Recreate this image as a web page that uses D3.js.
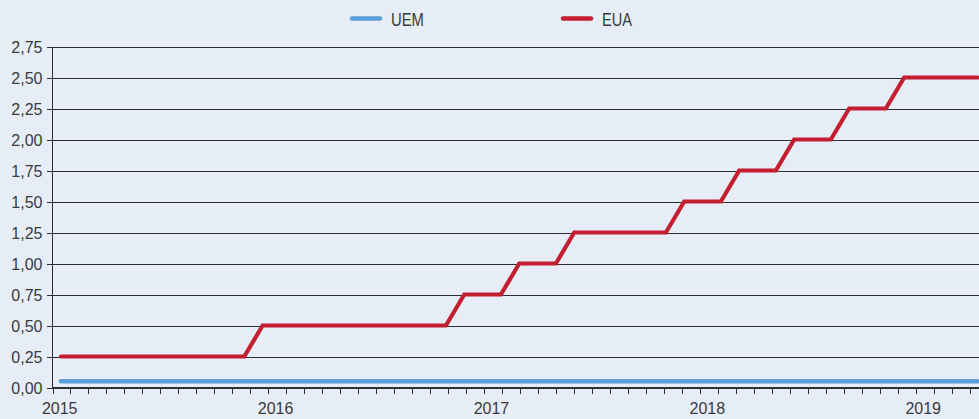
<!DOCTYPE html>
<meta charset="UTF-8">
<style>
  body { margin: 0; background: #e7edf7; }
  svg { display: block; }
  .grid line { stroke: #2e2e2e; stroke-width: 1; shape-rendering: crispEdges; }
  .tick text { font: 16px "Liberation Sans", Arial, sans-serif; fill: #3a3a3a; }
  .legend text { font: 19px "Liberation Sans", Arial, sans-serif; fill: #3a3a3a; }
  .series { fill: none; stroke-linejoin: miter; stroke-linecap: round; }
</style>
<body>
<svg width="979" height="419" id="chart"></svg>

<script src="https://cdn.jsdelivr.net/npm/d3@7"></script>
<script>

// year labels on the x axis
var years = ["2015", "2016", "2017", "2018", "2019"];

// y axis ticks
var yTicks = [0, 0.25, 0.5, 0.75, 1, 1.25, 1.5, 1.75, 2, 2.25, 2.5, 2.75];

// UEM (euro area) rate, one value per period
var uem = [0.05, 0.05, 0.05, 0.05, 0.05, 0.05, 0.05, 0.05, 0.05, 0.05,
           0.05, 0.05, 0.05, 0.05, 0.05, 0.05, 0.05, 0.05, 0.05, 0.05,
           0.05, 0.05, 0.05, 0.05, 0.05, 0.05, 0.05, 0.05, 0.05, 0.05,
           0.05, 0.05, 0.05, 0.05, 0.05, 0.05, 0.05, 0.05, 0.05, 0.05,
           0.05, 0.05, 0.05, 0.05, 0.05, 0.05, 0.05, 0.05, 0.05, 0.05,
           0.05];

// EUA (United States) rate
var eua = [0.25, 0.25, 0.25, 0.25, 0.25, 0.25, 0.25, 0.25, 0.25, 0.25,
           0.25, 0.50, 0.50, 0.50, 0.50, 0.50, 0.50, 0.50, 0.50, 0.50,
           0.50, 0.50, 0.75, 0.75, 0.75, 1.00, 1.00, 1.00, 1.25, 1.25,
           1.25, 1.25, 1.25, 1.25, 1.50, 1.50, 1.50, 1.75, 1.75, 1.75,
           2.00, 2.00, 2.00, 2.25, 2.25, 2.25, 2.50, 2.50, 2.50, 2.50,
           2.50];

var svg = d3.select("#chart");
var W = 979, H = 419;

var mLeft = 52.5, mTop = 46.5, mBottom = 387.5;

// month tick scale (52 months shown, last one cut off at the edge)
var xMonth = d3.scaleLinear().domain([0, 51.5]).range([mLeft, W]);
// data point scale
var xData = d3.scaleLinear().domain([0, uem.length - 1]).range([61, 977.5]);
var y = d3.scaleLinear().domain([0, 2.75]).range([mBottom, mTop]);

var fmt = function(v) { return d3.format(".2f")(v).replace(".", ","); };

// gridlines + y labels
var yAxis = d3.axisLeft(y)
    .tickValues(yTicks)
    .tickSize(-(W - mLeft))
    .tickSizeOuter(0)
    .tickFormat(fmt);

var gy = svg.append("g")
    .attr("class", "grid")
    .attr("transform", "translate(" + mLeft + ",0)")
    .call(yAxis);
gy.select(".domain").remove();
gy.selectAll(".tick text").attr("x", -10).attr("dy", "0.35em");
// small tick stub left of the axis
gy.selectAll(".tick").append("line")
    .attr("x1", -6).attr("x2", 0);

// y axis line
svg.append("line")
    .attr("x1", mLeft).attr("x2", mLeft)
    .attr("y1", mTop).attr("y2", mBottom)
    .attr("stroke", "#2e2e2e")
    .attr("shape-rendering", "crispEdges");

// x axis: month ticks
var gx = svg.append("g")
    .attr("class", "grid")
    .attr("transform", "translate(0," + mBottom + ")");
gx.selectAll("line.m")
    .data(d3.range(0, 52))
    .enter().append("line")
    .attr("class", "m")
    .attr("x1", function(d) { return Math.round(xMonth(d)) + 0.5; })
    .attr("x2", function(d) { return Math.round(xMonth(d)) + 0.5; })
    .attr("y1", 0).attr("y2", 6);
gx.append("line")
    .attr("x1", mLeft).attr("x2", W)
    .attr("y1", 0).attr("y2", 0);

gx.selectAll("text")
    .data(years)
    .enter().append("text")
    .attr("x", function(d, i) { return xMonth(i * 12 + 0.4); })
    .attr("y", 26)
    .attr("text-anchor", "middle")
    .style("font", "16px 'Liberation Sans', Arial, sans-serif")
    .style("fill", "#3a3a3a")
    .text(function(d) { return d; });

// lines
var line = d3.line()
    .x(function(d, i) { return xData(i); })
    .y(function(d) { return y(d); });

svg.append("clipPath").attr("id", "clip")
  .append("rect").attr("x", 0).attr("y", 0).attr("width", W).attr("height", H);

svg.append("path")
    .datum(uem)
    .attr("class", "series")
    .attr("clip-path", "url(#clip)")
    .attr("stroke", "#5b9fd8")
    .attr("stroke-width", 4.5)
    .attr("d", line);

svg.append("path")
    .datum(eua)
    .attr("class", "series")
    .attr("clip-path", "url(#clip)")
    .attr("stroke", "#c31f30")
    .attr("stroke-width", 4.2)
    .attr("d", line);

// legend
var legend = [
  {name: "UEM", color: "#5b9fd8", x: 352, w: 33},
  {name: "EUA", color: "#c31f30", x: 563, w: 30}
];
var lg = svg.append("g").attr("class", "legend");
lg.selectAll("line")
    .data(legend)
    .enter().append("line")
    .attr("x1", function(d) { return d.x; })
    .attr("x2", function(d) { return d.x + 28; })
    .attr("y1", 18.5).attr("y2", 18.5)
    .attr("stroke", function(d) { return d.color; })
    .attr("stroke-width", 4.5)
    .attr("stroke-linecap", "round");
lg.selectAll("text")
    .data(legend)
    .enter().append("text")
    .attr("x", function(d) { return d.x + 39; })
    .attr("y", 25.5)
    .attr("textLength", function(d) { return d.w; })
    .attr("lengthAdjust", "spacingAndGlyphs")
    .text(function(d) { return d.name; });

</script>
</body>
